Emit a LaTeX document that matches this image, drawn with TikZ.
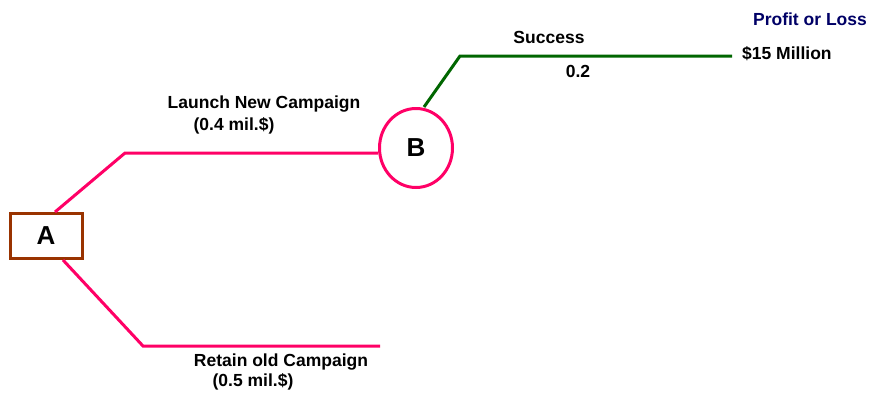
\documentclass[tikz,border=0pt]{standalone}
\usepackage{fontspec}
\setmainfont{Liberation Sans}
\usetikzlibrary{shapes.geometric}
\definecolor{pinkc}{RGB}{255,0,102}
\definecolor{brownc}{RGB}{153,51,0}
\definecolor{greenc}{RGB}{0,102,0}
\definecolor{navyc}{RGB}{0,0,102}
\tikzset{
  lbl/.style={font=\bfseries\fontsize{17.5}{20}\selectfont, inner sep=0pt},
  pinkline/.style={pinkc, line width=3pt},
  greenline/.style={greenc, line width=3pt},
}
\begin{document}
\begin{tikzpicture}[x=1pt,y=-1pt]
\useasboundingbox (0,0) rectangle (871,397);
\node[draw=brownc, line width=3pt, minimum width=72pt, minimum height=45pt, inner sep=0pt, font=\bfseries\fontsize{26}{30}\selectfont] (A) at (46,236) {A};
\node[draw=pinkc, line width=3pt, ellipse, minimum width=73pt, minimum height=79pt, inner sep=0pt, font=\bfseries\fontsize{26}{30}\selectfont] (B) at (416,148) {B};
\coordinate (a1) at (125,153);
\coordinate (a2) at (143,346);
\coordinate (a3) at (380,346);
\coordinate (b1) at (460,56);
\coordinate (b2) at (732,56);
\draw[pinkline, line join=miter] (A.north -| 55,0) -- (a1) -- (B.west |- a1);
\draw[pinkline] (A.south -| 63,0) -- (a2) -- (a3);
\draw[greenline] (B.north -| 424,0) -- (b1) -- (b2);
\node[lbl] (t1) at (264,104) {Launch New Campaign};
\node[lbl] (t2) at (234,126) {(0.4 mil.\$)};
\node[lbl] (t3) at (281,362) {Retain old Campaign};
\node[lbl] (t4) at (253,382) {(0.5 mil.\$)};
\node[lbl] (t5) at (549,37) {Success};
\node[lbl] (t6) at (578,71) {0.2};
\node[lbl, anchor=west] (t7) at (742,54) {\$15 Million};
\node[lbl, text=navyc] (t8) at (810,19) {Profit or Loss};
\end{tikzpicture}
\end{document}
